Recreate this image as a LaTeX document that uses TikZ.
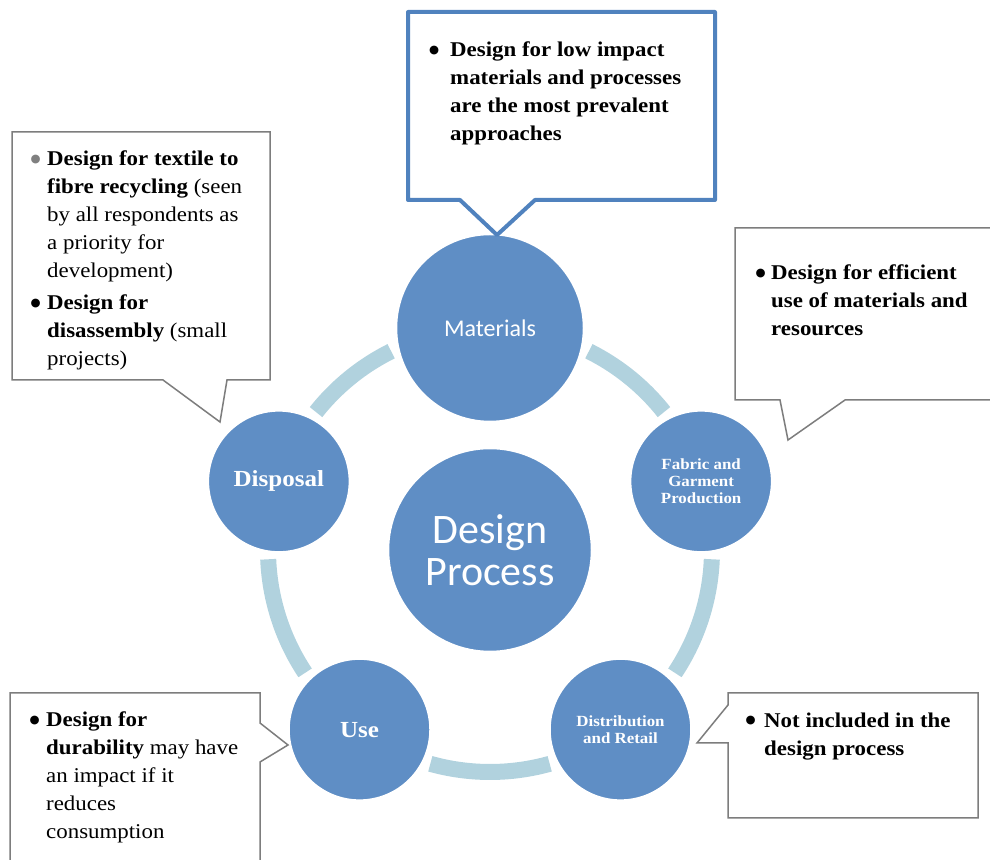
\documentclass[tikz,border=0pt]{standalone}
\usepackage{fontspec}
\setmainfont{Liberation Serif}
\newfontfamily\camfont[FakeStretch=1.09]{Liberation Serif}
\newfontfamily\carfont{Carlito}
\newfontfamily\symfont{DejaVu Sans}
\newcommand\mybul[2][black]{\llap{\raisebox{3.8pt}{\textcolor{#1}{\symfont\fontsize{11.5}{11.5}\selectfont ●}}\hspace{#2}}}
\definecolor{circ}{RGB}{95,142,197}
\definecolor{arcc}{RGB}{177,210,222}
\definecolor{callb}{RGB}{80,130,190}
\definecolor{callg}{RGB}{125,125,125}
\begin{document}
\begin{tikzpicture}[x=1pt,y=1pt,
  bubble/.style={circle, fill=circ, draw=white, line width=2.5pt, inner sep=0pt, minimum size=#1, text=white, align=center},
  ringarc/.style={draw=arcc, line width=16pt},
  callgray/.style={draw=callg, line width=1.5pt, fill=white, line join=miter},
  callblue/.style={draw=callb, line width=4pt, fill=white, line join=round},
  ctext/.style={anchor=north west, inner sep=0pt, align=left, font=\camfont\fontsize{21}{28}\selectfont},
  sbold/.style={font=\camfont\bfseries\fontsize{15.5}{17}\selectfont},
  bbold/.style={font=\camfont\bfseries\fontsize{23}{26}\selectfont},
]
\useasboundingbox (0,0) rectangle (990,859);
\coordinate (ring) at (490,309);
% ring arcs
\draw[ringarc] ([shift={(63.55:222)}]ring) arc[start angle=63.55, end angle=38.4, radius=222];
\draw[ringarc] ([shift={(-2.4:222)}]ring) arc[start angle=-2.4, end angle=-33.6, radius=222];
\draw[ringarc] ([shift={(-74.4:222)}]ring) arc[start angle=-74.4, end angle=-105.6, radius=222];
\draw[ringarc] ([shift={(-146.4:222)}]ring) arc[start angle=-146.4, end angle=-177.6, radius=222];
\draw[ringarc] ([shift={(141.6:222)}]ring) arc[start angle=141.6, end angle=116.45, radius=222];
% circles
\node[bubble=204, font=\carfont\fontsize{42}{42}\selectfont] (design) at (ring) {Design\\Process};
\node[bubble=188, font=\carfont\fontsize{24}{28}\selectfont] (mat) at ([shift={(90:222)}]ring) {Materials};
\node[bubble=142, sbold] (fab) at ([shift={(18:222)}]ring) {Fabric and\\Garment\\Production};
\node[bubble=142, font=\camfont\bfseries\fontsize{15.5}{16.5}\selectfont] (dist) at ([shift={(-54:222)}]ring) {Distribution\\and Retail};
\node[bubble=142, bbold] (use) at ([shift={(-126:222)}]ring) {Use};
\node[bubble=142, bbold] (disp) at ([shift={(162:222)}]ring) {Disposal};
% callouts
\draw[callblue] (408,847) -- (715,847) -- (715,659) -- (535,659) -- (497,624) coordinate (tipm) -- (460,659) -- (408,659) -- cycle;
\draw[callgray] (12,727) -- (270,727) -- (270,479) -- (227,479) -- (220,437) coordinate (tipd) -- (163,479) -- (12,479) -- cycle;
\draw[callgray] (735,631) -- (995,631) -- (995,459) -- (845,459) -- (788,419) coordinate (tipf) -- (780,459) -- (735,459) -- cycle;
\draw[callgray] (10,166) -- (260,166) -- (260,136) -- (288,114) coordinate (tipu) -- (260,97) -- (260,-11) -- (10,-11) -- cycle;
\draw[callgray] (728,166) -- (978,166) -- (978,41) -- (728,41) -- (728,116) -- (697,116) coordinate (tipr) -- (728,154) -- cycle;
% callout texts
\node[ctext] (tm) at (450,817) {\mybul{11pt}\textbf{Design for low impact}\\\textbf{materials and processes}\\\textbf{are the most prevalent}\\\textbf{approaches}};
\node[ctext] (td) at (47,708) {\mybul[gray]{6.5pt}\textbf{Design for textile to}\\\textbf{fibre recycling} (seen\\by all respondents as\\a priority for\\development)\\[4pt]\mybul{6.5pt}\textbf{Design for}\\\textbf{disassembly} (small\\projects)};
\node[ctext] (tf) at (771,594) {\mybul{5.5pt}\textbf{Design for efficient}\\\textbf{use of materials and}\\\textbf{resources}};
\node[ctext] (tu) at (46,147) {\mybul{6.5pt}\textbf{Design for}\\\textbf{durability} may have\\an impact if it\\reduces\\consumption};
\node[ctext] (tr) at (764,146) {\mybul{8.5pt}\textbf{Not included in the}\\\textbf{design process}};
\end{tikzpicture}
\end{document}
